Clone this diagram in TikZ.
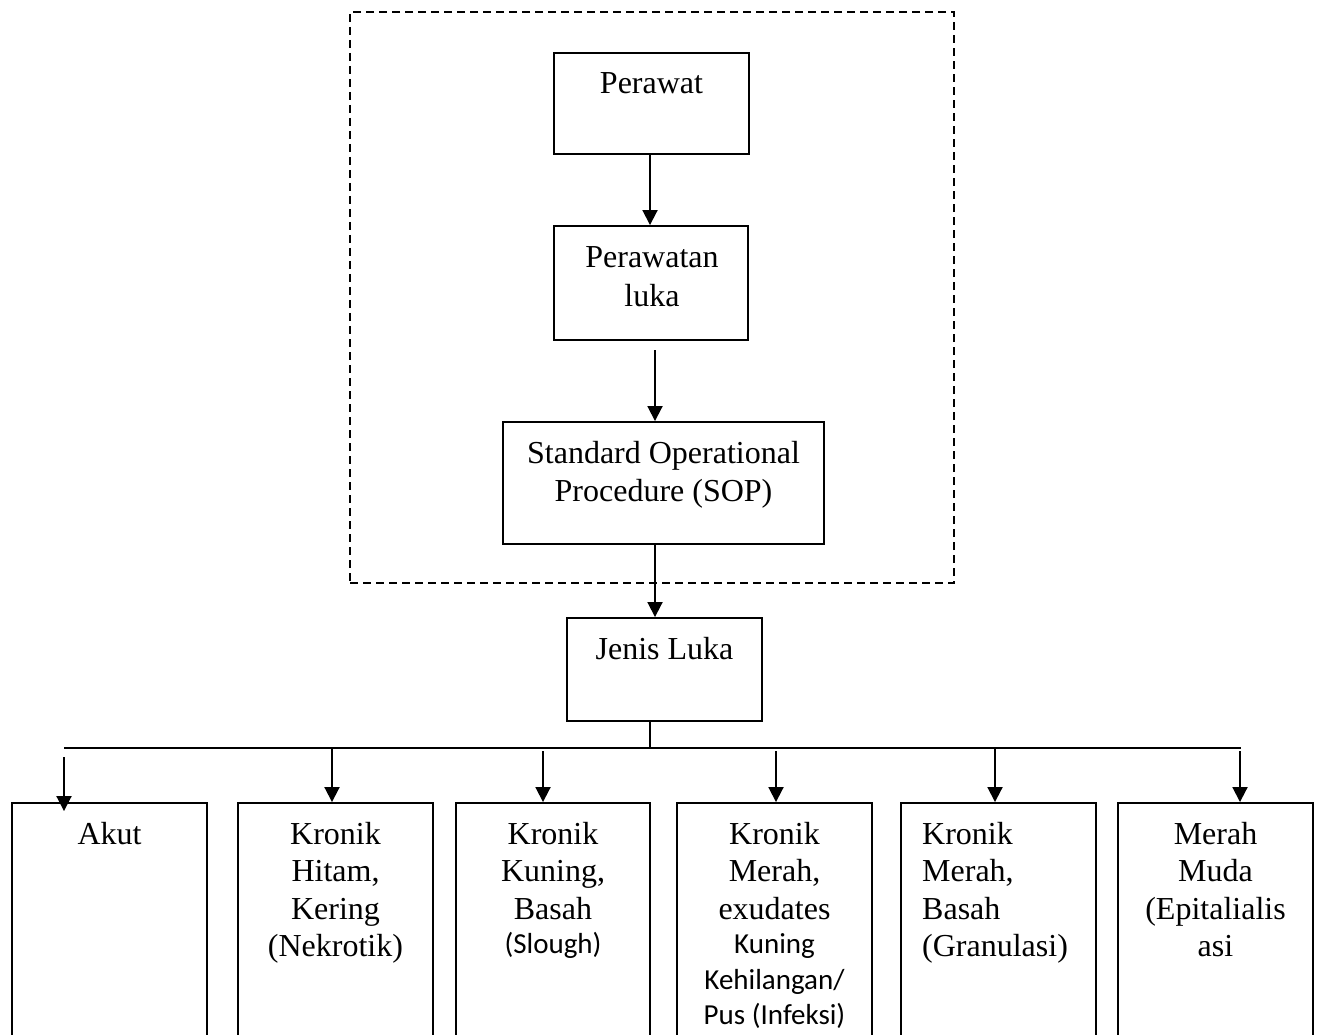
\documentclass[tikz,border=0pt]{standalone}
\usepackage{fontspec}
\setmainfont{Liberation Serif}
\newfontfamily\sansf{Carlito}
\newcommand\smallsans{\sansf\fontsize{29}{35}\selectfont}
\newcommand\firstln{\rule{0pt}{26pt}}
\usetikzlibrary{arrows.meta}
\begin{document}
\begin{tikzpicture}[x=1pt,y=-1pt,
  box/.style={draw, line width=1.9pt, inner sep=0pt},
  txt/.style={font=\fontsize{32}{37.5}\selectfont, align=center, inner sep=0pt, anchor=north},
  conn/.style={line width=1.9pt},
  arr/.style={conn, -{Triangle[length=15pt,width=15pt]}},
  groupbox/.style={draw, dash pattern=on 8pt off 5pt, line width=1.6pt, inner sep=0pt}]
\useasboundingbox (0,0) rectangle (1322,1035);
\clip (0,0) rectangle (1322,1035);

% dashed group
\node[groupbox, minimum width=604pt, minimum height=571pt] (group) at (652,297.5) {};

% top boxes
\node[box, minimum width=195pt, minimum height=101pt] (perawat) at (651.5,103.5) {};
\node[txt] (perawat-t) at (651.5,67) {\firstln Perawat};
\node[box, minimum width=194pt, minimum height=114pt] (luka) at (651,283) {};
\node[txt] (luka-t) at (652,241) {\firstln Perawatan\\[1.5pt]luka};
\node[box, minimum width=321pt, minimum height=122pt] (sop) at (663.5,483) {};
\node[txt] (sop-t) at (663.5,437) {\firstln Standard Operational\\[1pt]Procedure (SOP)};
\node[box, minimum width=195pt, minimum height=103pt] (jenis) at (664.5,669.5) {};
\node[txt] (jenis-t) at (664.5,633) {\firstln Jenis Luka};

% bottom boxes
\node[box, minimum width=195pt, minimum height=242pt] (b1) at (109.5,924) {};
\node[box, minimum width=195pt, minimum height=242pt] (b2) at (335.5,924) {};
\node[box, minimum width=194pt, minimum height=242pt] (b3) at (553,924) {};
\node[box, minimum width=195pt, minimum height=242pt] (b4) at (774.5,924) {};
\node[box, minimum width=195pt, minimum height=242pt] (b5) at (998.5,924) {};
\node[box, minimum width=195pt, minimum height=242pt] (b6) at (1215.5,924) {};

\node[txt] (b1-t) at (109.5,818) {\firstln Akut};
\node[txt] (b2-t) at (335.5,818) {\firstln Kronik\\Hitam,\\Kering\\(Nekrotik)};
\node[txt] (b3-t) at (553,818) {\firstln Kronik\\Kuning,\\Basah\\[-3pt]{\smallsans (Slough)}};
\node[txt] (b4-t) at (774.5,818) {\firstln Kronik\\Merah,\\exudates\\[-3pt]{\smallsans Kuning}\\[-2pt]{\smallsans Kehilangan/}\\[-2pt]{\smallsans Pus (Infeksi)}};
\node[txt, align=left, anchor=north west] (b5-t) at (922,818) {\firstln Kronik\\Merah,\\Basah\\(Granulasi)};
\node[txt] (b6-t) at (1215.5,818) {\firstln Merah\\Muda\\(Epitalialis\\asi};

% connectors
\coordinate (a1) at (650,154);
\draw[arr] (a1) -- (a1 |- luka.north);
\coordinate (a2) at (655,350);
\draw[arr] (a2) -- (a2 |- sop.north);
\draw[arr] (a2 |- sop.south) -- (a2 |- jenis.north);

\coordinate (stem) at (650,748);
\coordinate (busL) at (64,748);
\coordinate (busR) at (1241,748);
\draw[conn] (stem |- jenis.south) -- (stem);
\draw[conn] (busL) -- (busR);

\coordinate (t1) at (64,757);
\coordinate (t2) at (332,748);
\coordinate (t3) at (543,751);
\coordinate (t4) at (776,751);
\coordinate (t5) at (995,748);
\coordinate (t6) at (1240,751);
\draw[arr] (t1) -- ([yshift=-9pt]t1 |- b1.north);
\draw[arr] (t2) -- (t2 |- b2.north);
\draw[arr] (t3) -- (t3 |- b3.north);
\draw[arr] (t4) -- (t4 |- b4.north);
\draw[arr] (t5) -- (t5 |- b5.north);
\draw[arr] (t6) -- (t6 |- b6.north);
\end{tikzpicture}
\end{document}
